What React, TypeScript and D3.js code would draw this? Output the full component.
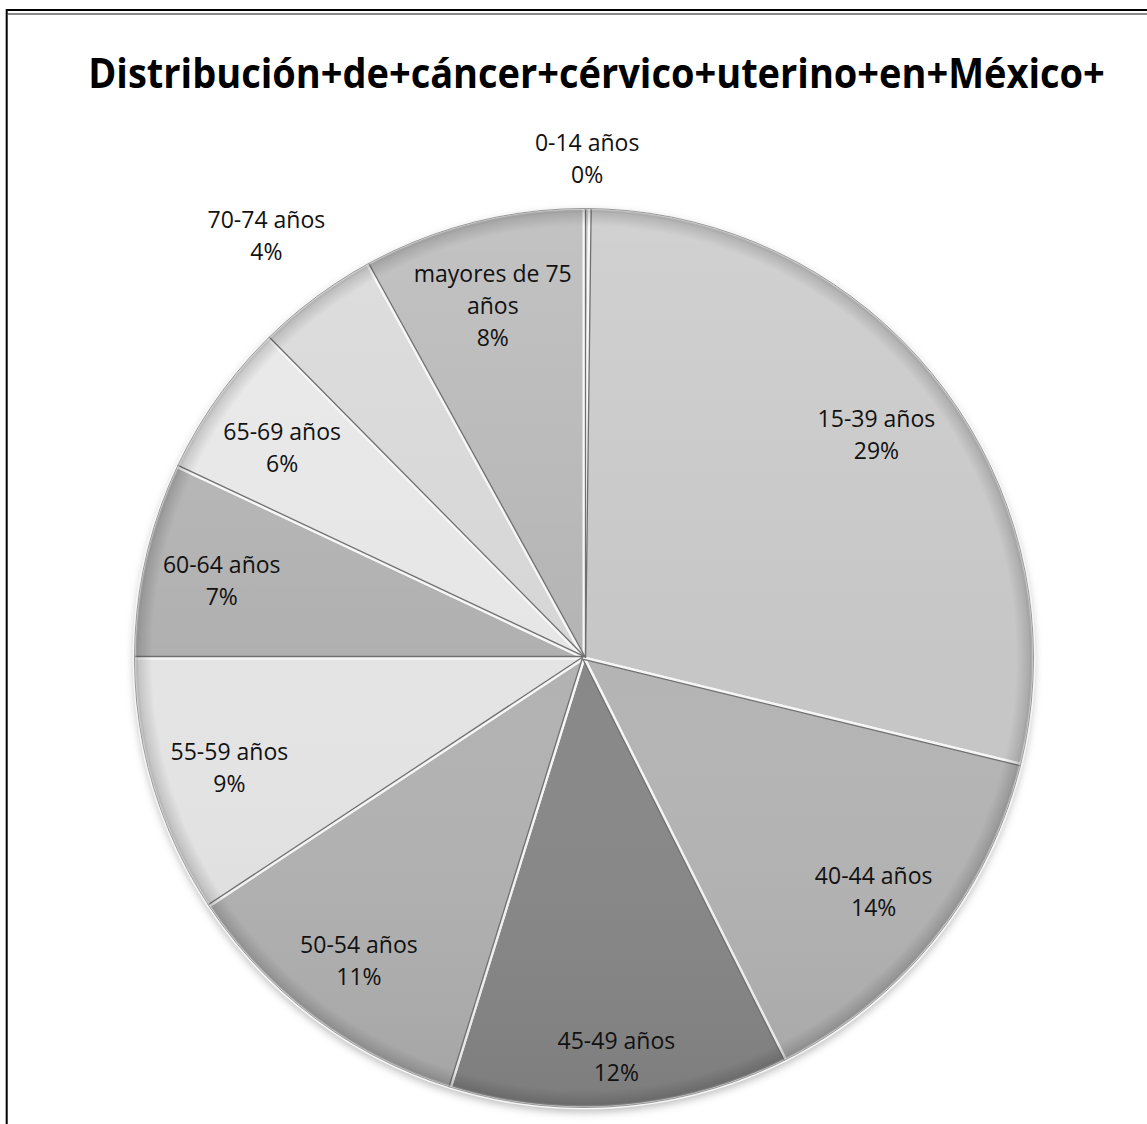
import React, { useLayoutEffect, useRef, useState } from "react";
import * as d3 from "d3";

const titleText = "Distribución+de+cáncer+cérvico+uterino+en+México+";
const categories = [
  "0-14 años",
  "15-39 años",
  "40-44 años",
  "45-49 años",
  "50-54 años",
  "55-59 años",
  "60-64 años",
  "65-69 años",
  "70-74 años",
  "mayores de 75 años",
];
const shares = [0.2, 28.6, 13.8, 12.2, 10.9, 9.3, 7.0, 5.6, 4.4, 8.0];
const sliceColors = [
  "#c0c0c0",
  "#c6c6c6",
  "#b4b4b4",
  "#888888",
  "#b2b2b2",
  "#e4e4e4",
  "#b0b0b0",
  "#e6e6e6",
  "#d6d6d6",
  "#b4b4b4",
];

const W = 1147;
const H = 1124;
const CX = 584;
const CY = 658;
const R = 450;
const FONT = "'Open Sans', 'Noto Sans', sans-serif";
const LABEL_SIZE = 23;
const LINE_GAP = 32;
const CAP = 17;
const CHAR_W = 12;
const PAD_TOP = 10;
const PAD_BOT = 4;
const TITLE_W = 1017;

function wrapLabel(name: string, maxChars = 13): string[] {
  const words = name.split(" ");
  const lines: string[] = [];
  let cur = "";
  for (const w of words) {
    const next = cur ? cur + " " + w : w;
    if (next.length > maxChars && cur) {
      lines.push(cur);
      cur = w;
    } else cur = next;
  }
  if (cur) lines.push(cur);
  return lines;
}

function solveT(u: [number, number], d: [number, number], D: number) {
  const ud = u[0] * d[0] + u[1] * d[1];
  const dd = d[0] * d[0] + d[1] * d[1];
  return -ud + Math.sqrt(Math.max(0, ud * ud - dd + D * D));
}

export default function App() {
  const titleRef = useRef<SVGTextElement>(null);
  const [titleScale, setTitleScale] = useState(1);

  useLayoutEffect(() => {
    if (titleRef.current) {
      const w = titleRef.current.getComputedTextLength();
      if (w > 0) setTitleScale(TITLE_W / w);
    }
  }, []);

  const data = categories.map((c, i) => ({ name: c, v: shares[i], color: sliceColors[i] }));
  const total = d3.sum(shares);
  const pie = d3
    .pie<any>()
    .sort(null)
    .value((d: any) => d.v);
  const arcs = pie(data);
  const arcGen = d3.arc<any>().innerRadius(0).outerRadius(R);

  const labels = arcs.map((a: any) => {
    const pct = Math.round((a.data.v / total) * 100) + "%";
    const lines = [...wrapLabel(a.data.name), pct];
    const w = d3.max(lines, (l) => l.length * CHAR_W) as number;
    const hb = CAP + (lines.length - 1) * LINE_GAP + PAD_TOP + PAD_BOT;
    const mid = (a.startAngle + a.endAngle) / 2;
    const u: [number, number] = [Math.sin(mid), -Math.cos(mid)];
    const outside = (a.data.v / total) * 100 < 5;
    let t;
    if (outside) {
      const sx = Math.abs(u[0]) > 0.15 ? -Math.sign(u[0]) : 0;
      const sy = Math.abs(u[1]) > 0.15 ? -Math.sign(u[1]) : 0;
      t = solveT(u, [(sx * w) / 2, (sy * hb) / 2], 471);
    } else {
      const sx = Math.sign(u[0]) || 1;
      const sy = Math.sign(u[1]) || 1;
      t = solveT(u, [(sx * w) / 2, (sy * hb) / 2], 437);
    }
    const cx = CX + t * u[0];
    const cy = CY + t * u[1];
    return { lines, x: cx, y0: cy - hb / 2 + PAD_TOP + CAP };
  });

  const boundaries = arcs.map((a: any) => a.startAngle);
  const TX = 596.5;

  return (
    <svg
      width={W}
      height={H}
      style={{ position: "absolute", left: 0, top: 0, background: "#fff" }}
      xmlns="http://www.w3.org/2000/svg"
    >
      <defs>
        <linearGradient id="shade" gradientUnits="userSpaceOnUse" x1={0} y1={-R} x2={0} y2={R}>
          <stop offset="0" stopColor="#fff" stopOpacity={0.2} />
          <stop offset="0.5" stopColor="#fff" stopOpacity={0} />
          <stop offset="1" stopColor="#000" stopOpacity={0.08} />
        </linearGradient>
        <radialGradient id="rim" gradientUnits="userSpaceOnUse" cx={0} cy={0} r={R}>
          <stop offset="0" stopColor="#000" stopOpacity={0} />
          <stop offset="0.96" stopColor="#000" stopOpacity={0} />
          <stop offset="0.99" stopColor="#000" stopOpacity={0.14} />
          <stop offset="1" stopColor="#fff" stopOpacity={0.6} />
        </radialGradient>
        <filter id="shadow" x="-10%" y="-10%" width="120%" height="120%">
          <feDropShadow dx="0" dy="4" stdDeviation="4" floodColor="#000" floodOpacity="0.28" />
        </filter>
      </defs>
      <rect x={0} y={0} width={W} height={H} fill="#fff" />
      {/* frame */}
      <line x1={6.7} y1={10} x2={W} y2={10} stroke="#000" strokeWidth={2} />
      <line x1={7.7} y1={14} x2={W} y2={14} stroke="#8a8a8a" strokeWidth={2} />
      <line x1={6.7} y1={9} x2={6.7} y2={H} stroke="#000" strokeWidth={2} />

      <g transform={`translate(${TX},88) scale(${titleScale},1)`}>
        <text
          ref={titleRef}
          x={0}
          y={0}
          textAnchor="middle"
          fontFamily={FONT}
          fontWeight={700}
          fontSize={42}
          fill="#000"
        >
          {titleText}
        </text>
      </g>

      <g transform={`translate(${CX},${CY})`}>
        <circle r={R} fill="#bbb" filter="url(#shadow)" />
        {arcs.map((a: any, i: number) => (
          <path
            key={i}
            d={arcGen(a) as string}
            fill={a.data.color}
            stroke="#f6f6f6"
            strokeWidth={3}
            strokeLinejoin="round"
          />
        ))}
        <circle r={R} fill="url(#shade)" />
        {boundaries.map((ang: number, i: number) => (
          <line
            key={i}
            x1={0}
            y1={0}
            x2={Math.sin(ang) * R}
            y2={-Math.cos(ang) * R}
            stroke="#707070"
            strokeWidth={1.3}
            transform={`translate(${Math.cos(ang) * 1.5},${Math.sin(ang) * 1.5})`}
          />
        ))}
        <circle r={R} fill="url(#rim)" />
        <circle r={R - 0.5} fill="none" stroke="#9a9a9a" strokeWidth={1} />
      </g>

      {labels.map((l, i) => (
        <text key={i} fontFamily={FONT} fontSize={LABEL_SIZE} fill="#111" textAnchor="middle">
          {l.lines.map((ln, j) => (
            <tspan key={j} x={l.x} y={l.y0 + j * LINE_GAP}>
              {ln}
            </tspan>
          ))}
        </text>
      ))}
    </svg>
  );
}
